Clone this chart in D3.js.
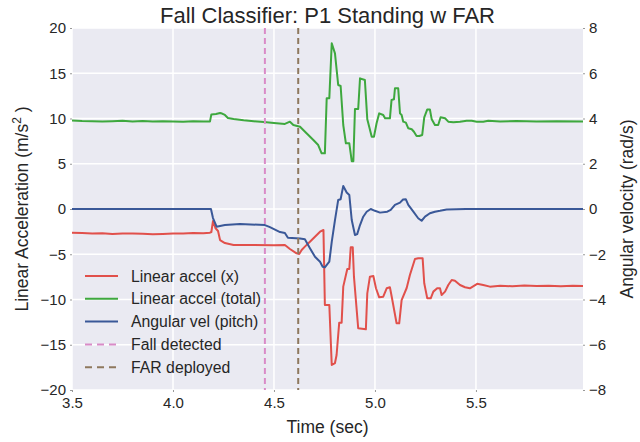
<!DOCTYPE html>
<html>
<head>
<meta charset="utf-8">
<script src="https://cdn.jsdelivr.net/npm/d3@7"></script>
<style>
  body { margin: 0; background: #fff; }
  text { font-family: "Liberation Sans", Arial, sans-serif; fill: #262626; }
</style>
</head>
<body>
<svg id="chart" width="640" height="442"></svg>
<script>
// time (sec) and linear accel x (m/s^2)
var tAccX = [3.5,3.55,3.6,3.65,3.7,3.75,3.8,3.85,3.9,3.95,4.0,4.05,4.1,4.15,4.183,4.19,4.198,4.21,4.223,4.233,4.257,4.3,4.4,4.5,4.554,4.579,4.612,4.625,4.637,4.653,4.678,4.703,4.728,4.745,
  4.752,4.774,4.786,4.802,4.81,4.823,4.835,4.843,4.863,4.873,4.88,4.89,4.896,4.917,4.955,4.962,4.975,4.992,5.005,5.021,5.041,5.058,5.074,5.083,5.107,5.12,5.132,5.157,5.173,5.198,5.214,5.236,
  5.244,5.259,5.276,5.289,5.308,5.322,5.33,5.347,5.363,5.38,5.396,5.421,5.446,5.47,5.506,5.536,5.569,5.62,5.68,5.74,5.8,5.86,5.92,5.98,6.03];
var accelX = [-2.62,-2.65,-2.7,-2.68,-2.76,-2.72,-2.7,-2.74,-2.8,-2.76,-2.72,-2.7,-2.66,-2.68,-2.62,-2.54,-1.33,-2.1,-2.43,-3.43,-3.76,-3.98,-3.98,-4.0,-3.98,-4.42,-4.9,-4.97,-4.53,-4.16,-3.61,-3.06,-2.51,-2.32,
  -10.61,-10.61,-17.24,-17.02,-16.13,-12.56,-12.56,-8.58,-6.63,-6.63,-4.23,-4.23,-7.48,-13.18,-13.29,-9.32,-7.48,-7.4,-8.76,-9.76,-9.69,-8.76,-8.65,-9.69,-12.63,-12.63,-10.06,-8.73,-7.29,-5.52,-5.45,-5.45,
  -8.21,-9.87,-9.87,-9.13,-8.76,-8.76,-9.5,-9.13,-8.4,-7.85,-7.92,-8.4,-8.65,-8.76,-8.27,-8.4,-8.58,-8.48,-8.54,-8.45,-8.51,-8.48,-8.54,-8.48,-8.51];

// time (sec) and linear accel total (m/s^2)
var tAccTot = [3.5,3.55,3.6,3.65,3.7,3.75,3.8,3.85,3.9,3.95,4.0,4.05,4.1,4.15,4.183,4.19,4.213,4.233,4.243,4.257,4.272,4.3,4.35,4.4,4.45,4.5,4.554,4.579,4.596,4.629,4.645,4.67,4.695,4.719,4.736,4.752,
  4.761,4.774,4.786,4.802,4.818,4.83,4.843,4.856,4.873,4.885,4.893,4.901,4.917,4.926,4.95,4.962,4.984,4.995,5.008,5.021,5.041,5.05,5.074,5.082,5.094,5.099,5.115,5.124,5.132,5.14,5.153,5.165,
  5.182,5.193,5.206,5.219,5.234,5.244,5.259,5.272,5.281,5.297,5.313,5.325,5.347,5.363,5.388,5.421,5.454,5.479,5.504,5.536,5.561,5.62,5.7,5.8,5.9,6.03];
var accelTotal = [9.78,9.72,9.7,9.66,9.7,9.74,9.68,9.72,9.66,9.7,9.68,9.64,9.7,9.66,9.66,10.45,10.5,10.61,10.55,10.39,10.06,9.95,9.8,9.7,9.6,9.5,9.4,9.65,9.28,9.09,8.73,8.18,7.62,7.07,6.15,6.15,
  12.23,12.23,18.31,17.2,13.7,13.59,9.28,7.26,7.26,5.28,5.28,11.05,11.05,14.44,14.25,9.91,7.99,7.99,9.47,10.57,10.39,10.02,10.02,12.04,12.12,13.34,13.34,10.57,10.39,9.65,9.54,8.92,
  8.81,8.54,8.07,8.07,8.18,10.13,11.0,11.0,9.91,9.28,9.28,10.13,10.02,9.65,9.58,9.65,9.76,9.76,9.65,9.65,9.76,9.68,9.72,9.66,9.7,9.68];

// time (sec) and angular vel pitch (rad/s)
var tPitch = [3.5,4.188,4.198,4.216,4.233,4.257,4.332,4.455,4.48,4.53,4.554,4.569,4.629,4.653,4.678,4.703,4.728,4.741,4.752,4.774,4.786,4.802,4.818,4.83,4.843,4.86,4.873,4.885,
  4.901,4.912,4.926,4.942,4.959,4.979,5.0,5.025,5.061,5.078,5.099,5.124,5.139,5.153,5.165,5.19,5.214,5.231,5.248,5.272,5.297,5.322,5.355,5.45,6.03];
var pitchVel = [0,0,-0.4,-0.78,-0.75,-0.71,-0.66,-0.71,-0.8,-1.02,-1.06,-1.27,-1.3,-1.34,-1.73,-2.11,-2.33,-2.55,-2.58,-2.33,-1.45,-0.49,0.4,0.43,1.02,0.73,0.62,-0.49,
  -1.15,-1.11,-0.71,-0.34,-0.12,0,-0.08,-0.16,-0.12,-0.04,0.18,0.28,0.42,0.43,0.18,-0.12,-0.41,-0.52,-0.34,-0.19,-0.12,-0.08,-0.02,0,0];

var fallDetected = 4.455;
var farDeployed = 4.62;

var xTicks = [3.5, 4.0, 4.5, 5.0, 5.5];
var yTicks = [-20, -15, -10, -5, 0, 5, 10, 15, 20];
var y2Ticks = [-8, -6, -4, -2, 0, 2, 4, 6, 8];

var seriesNames = ["Linear accel (x)", "Linear accel (total)", "Angular vel (pitch)", "Fall detected", "FAR deployed"];
var colors = ["#E1504B", "#3EA83E", "#3A5898", "#D98BC7", "#8E785E"];

var svg = d3.select("#chart");
var margin = {left: 72, right: 57, top: 28, bottom: 52};
var W = 640 - margin.left - margin.right, H = 442 - margin.top - margin.bottom;

var x = d3.scaleLinear().domain([3.5, 6.03]).range([0, W]);
var y = d3.scaleLinear().domain([-20, 20]).range([H, 0]);
var y2 = d3.scaleLinear().domain([-8, 8]).range([H, 0]);

var g = svg.append("g").attr("transform", "translate(" + margin.left + "," + margin.top + ")");

g.append("rect").attr("width", W).attr("height", H).attr("fill", "#EAEAF2");

// grid
g.selectAll(".vgrid").data(xTicks).enter().append("line")
  .attr("x1", d => x(d)).attr("x2", d => x(d)).attr("y1", 0).attr("y2", H)
  .attr("stroke", "#fff").attr("stroke-width", 1.5);
g.selectAll(".hgrid").data(yTicks).enter().append("line")
  .attr("x1", 0).attr("x2", W).attr("y1", d => y(d)).attr("y2", d => y(d))
  .attr("stroke", "#fff").attr("stroke-width", 1.5);

var fmtMinus = function(d) { return d < 0 ? "\u2212" + Math.abs(d) : "" + d; };

// axes
var xAxis = g.append("g").attr("transform", "translate(0," + H + ")")
  .call(d3.axisBottom(x).tickValues(xTicks).tickFormat(d3.format(".1f")).tickSize(2).tickPadding(5));
var yAxis = g.append("g")
  .call(d3.axisLeft(y).tickValues(yTicks).tickFormat(fmtMinus).tickSize(2).tickPadding(4));
var y2Axis = g.append("g").attr("transform", "translate(" + W + ",0)")
  .call(d3.axisRight(y2).tickValues(y2Ticks).tickFormat(fmtMinus).tickSize(2).tickPadding(4));
[xAxis, yAxis, y2Axis].forEach(function(a) {
  a.select(".domain").remove();
  a.selectAll(".tick line").attr("stroke", "#999");
  a.selectAll(".tick text").style("font-size", "15px").attr("fill", "#262626")
    .style("font-family", "'Liberation Sans', Arial, sans-serif");
});

// lines
var lineL = d3.line().x(d => x(d[0])).y(d => y(d[1]));
var lineR = d3.line().x(d => x(d[0])).y(d => y2(d[1]));

var plot = g.append("g");
plot.append("path").datum(d3.zip(tAccX, accelX)).attr("d", lineL)
  .attr("fill", "none").attr("stroke", colors[0]).attr("stroke-width", 2).attr("stroke-linejoin", "round");
plot.append("path").datum(d3.zip(tAccTot, accelTotal)).attr("d", lineL)
  .attr("fill", "none").attr("stroke", colors[1]).attr("stroke-width", 2).attr("stroke-linejoin", "round");
plot.append("path").datum(d3.zip(tPitch, pitchVel)).attr("d", lineR)
  .attr("fill", "none").attr("stroke", colors[2]).attr("stroke-width", 2).attr("stroke-linejoin", "round");

// event markers
[fallDetected, farDeployed].forEach(function(t, i) {
  g.append("line").attr("x1", x(t)).attr("x2", x(t)).attr("y1", 0).attr("y2", H)
    .attr("stroke", colors[3 + i]).attr("stroke-width", 2).attr("stroke-dasharray", "6,4");
});

// legend
var legend = g.append("g").attr("transform", "translate(13,248)");
seriesNames.forEach(function(name, i) {
  var row = legend.append("g").attr("transform", "translate(0," + (i * 22.8) + ")");
  row.append("line").attr("x1", 0).attr("x2", 33).attr("y1", 0).attr("y2", 0)
    .attr("stroke", colors[i]).attr("stroke-width", 2)
    .attr("stroke-dasharray", i >= 3 ? "7,5" : null);
  row.append("text").attr("x", 46).attr("y", 0).attr("dy", "0.35em")
    .style("font-size", "15.8px").text(name);
});

// titles
svg.append("text").attr("x", margin.left + W / 2).attr("y", 23).attr("text-anchor", "middle")
  .style("font-size", "22px").text("Fall Classifier: P1 Standing w FAR");
svg.append("text").attr("x", margin.left + W / 2).attr("y", 433).attr("text-anchor", "middle")
  .style("font-size", "17.5px").text("Time (sec)");

var yl = svg.append("text").attr("transform", "translate(28," + (margin.top + H / 2) + ") rotate(-90)")
  .attr("text-anchor", "middle").style("font-size", "17.5px");
yl.append("tspan").text("Linear Acceleration (m/s");
yl.append("tspan").attr("dy", -7).style("font-size", "12px").text("2");
yl.append("tspan").attr("dy", 7).text(" )");

svg.append("text").attr("transform", "translate(633," + (margin.top + H / 2) + ") rotate(-90)")
  .attr("text-anchor", "middle").style("font-size", "17.5px").text("Angular velocity (rad/s)");
</script>
</body>
</html>
